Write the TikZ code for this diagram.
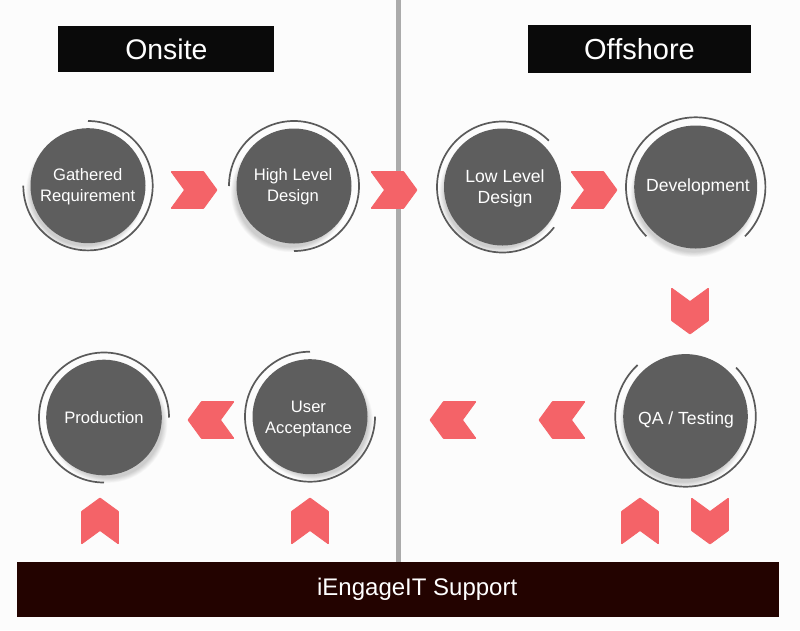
\documentclass[tikz,border=0pt]{standalone}
\usepackage{fontspec}
\setmainfont{Liberation Sans}
\definecolor{disc}{HTML}{5E5E5E}
\definecolor{ringc}{HTML}{5A5A5A}
\definecolor{chev}{HTML}{F46368}
\definecolor{divider}{HTML}{ABABAB}
\definecolor{bandc}{HTML}{230300}
\definecolor{headc}{HTML}{0A0A0A}
\tikzset{
  x=1pt,y=-1pt,
  disc/.style={circle,fill=disc,inner sep=0pt},
  disctext/.style={text=white,inner sep=0pt,align=center,font=\fontsize{16.6}{21}\selectfont},
  disctextbig/.style={disctext,font=\fontsize{17.6}{21}\selectfont},
  ringline/.style={draw=ringc,line width=1.7pt},
  header/.style={fill=headc,inner sep=0pt},
  headtext/.style={text=white,inner sep=0pt,font=\fontsize{28.4}{32}\selectfont},
  chevshape/.style={fill=chev,draw=chev,line width=.8pt,line join=round,rounded corners=.6pt},
  pics/chevron/.style={code={
    \draw[chevshape] (-23,-18.5) -- (9.5,-18.5) -- (23,0) -- (9.5,18.5) -- (-23,18.5) -- (-9.5,0) -- cycle;
  }}
}
% \stepdisc{name}{x}{y}{r}{ring r}{start}{end}{shadow dx}{shadow dy}
\newcommand{\stepdisc}[9]{%
  \foreach \k in {0,1,...,7}{
    \fill[black,opacity=.022] (#2+#8,#3+#9) circle[radius=#4+1.5-.7*\k];
  }
  \stepnode{#1}{#2}{#3}{#4}{#5}{#6}{#7}%
}
\newcommand{\stepnode}[7]{%
  \draw[ringline] (#2,#3) ++(#6:#5 and -#5) arc[start angle=#6,end angle=#7,x radius=#5,y radius=-#5];
  \node[disc,minimum size=2*#4] (#1) at (#2,#3) {};
}
\begin{document}
\begin{tikzpicture}
\useasboundingbox (0,0) rectangle (800,630);
\fill[white!99!black] (0,0) rectangle (800,630);
\fill[divider] (396,0) rectangle (401,562);
\node[header,minimum width=216.3,minimum height=46.3] (onsite) at (166.2,49.2) {};
\node[headtext] (onsitetext) at (166.4,49.2) {Onsite};
\node[header,minimum width=222.7,minimum height=48] (offshore) at (639.3,49) {};
\node[headtext,font=\fontsize{29}{32}\selectfont] (offshoretext) at (639.5,49.5) {Offshore};
\node[fill=bandc,inner sep=0pt,minimum width=762,minimum height=55] (band) at (398,589.5) {};
\node[text=white,inner sep=0pt,font=\fontsize{24}{28}\selectfont] (bandtext) at (417.2,589) {iEngageIT Support};
\stepdisc{gather}{88}{185.7}{57.5}{64.7}{90}{-180}{-3}{6}
\stepdisc{high}{294}{186}{57.5}{65}{180}{-90}{-4}{7}
\stepdisc{low}{502.5}{187}{58.5}{65.5}{45}{322}{-3}{6}
\stepdisc{dev}{695.7}{187}{61.5}{69.7}{-45}{225}{-2}{7}
\stepdisc{prod}{104}{417.5}{57.8}{65}{0}{270}{4}{6}
\stepdisc{user}{310}{416.7}{57.5}{65}{90}{360}{4}{5}
\stepdisc{qa}{685.5}{416.4}{62.3}{70.3}{44}{-227}{-2}{7}
\node[disctext] (gathertext) at (87.7,187.2) {Gathered\\Requirement};
\node[disctext] (hightext) at (293,187.2) {High Level\\Design};
\node[disctextbig] (lowtext) at (505,188) {Low Level\\Design};
\node[disctextbig] (devtext) at (698,186.5) {Development};
\node[disctext] (prodtext) at (104,418) {Production};
\node[disctext] (usertext) at (308.5,418.7) {User\\Acceptance};
\node[disctextbig] (qatext) at (686,420) {QA / Testing};
\pic at (194,190) {chevron};
\pic at (394,190) {chevron};
\pic at (594,190) {chevron};
\pic[rotate=180] at (211,420) {chevron};
\pic[rotate=180] at (453,420) {chevron};
\pic[rotate=180] at (562,420) {chevron};
\pic[rotate=-90] at (690,311) {chevron};
\pic[rotate=90] at (100,521) {chevron};
\pic[rotate=90] at (310,521) {chevron};
\pic[rotate=90] at (640,521) {chevron};
\pic[rotate=-90] at (710,521) {chevron};
\end{tikzpicture}
\end{document}
